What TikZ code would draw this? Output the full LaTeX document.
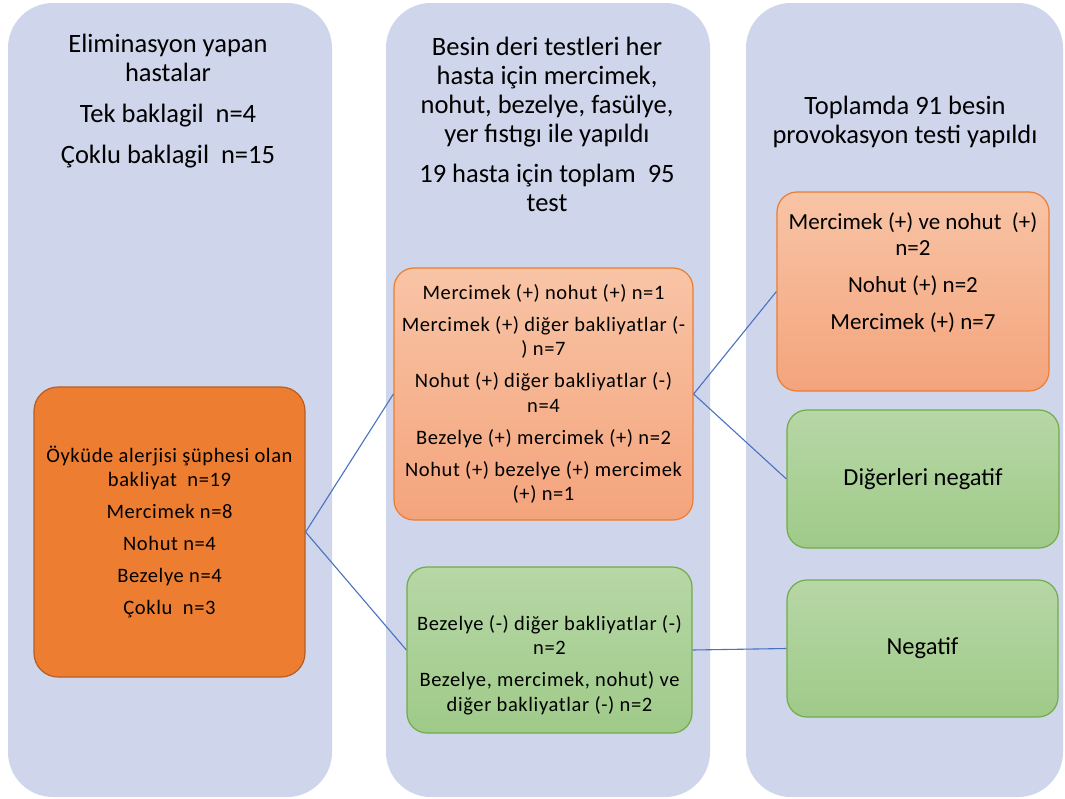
\documentclass[tikz,border=0pt]{standalone}
\usepackage{fontspec}
\setmainfont{Carlito}
\newfontfamily\boxfont[LetterSpace=3]{Carlito}
\definecolor{panel}{HTML}{CFD5EA}
\definecolor{orfill}{HTML}{ED7D31}
\definecolor{ordraw}{HTML}{B65E22}
\definecolor{saltop}{HTML}{F8C4A6}
\definecolor{salbot}{HTML}{F4A47C}
\definecolor{saldraw}{HTML}{ED7D31}
\definecolor{grtop}{HTML}{B7D7A6}
\definecolor{grbot}{HTML}{9FCA89}
\definecolor{grdraw}{HTML}{70AD47}
\definecolor{conn}{HTML}{4A72C0}
\tikzset{
  panelbox/.style={fill=panel, rounded corners=45pt, inner sep=0pt, minimum width=324pt, minimum height=794pt},
  orbox/.style={fill=orfill, draw=ordraw, line width=1.2pt, rounded corners=24pt, inner sep=0pt, align=center,
     font=\boxfont\fontsize{20.5}{24.5}\selectfont},
  salbox/.style={top color=saltop, bottom color=salbot, draw=saldraw, line width=1.2pt, rounded corners=20pt, inner sep=0pt, align=center,
     font=\boxfont\fontsize{20.5}{24.5}\selectfont},
  grbox/.style={top color=grtop, bottom color=grbot, draw=grdraw, line width=1.2pt, rounded corners=20pt, inner sep=0pt, align=center,
     font=\boxfont\fontsize{20.5}{24.5}\selectfont},
  boxtext/.style={align=center, inner sep=0pt, font=\boxfont\fontsize{20.5}{24.5}\selectfont},
  righttext/.style={align=center, inner sep=0pt, font=\fontsize{24}{26}\selectfont},
  headtext/.style={align=center, inner sep=0pt, font=\fontsize{26.5}{29}\selectfont},
  connline/.style={draw=conn, line width=1.1pt}
}
\begin{document}
\begin{tikzpicture}[x=1pt,y=-1pt]
\useasboundingbox (0,0) rectangle (1065,798);
\fill[white] (0,0) rectangle (1065,798);
% panels
\node[panelbox] (P1) at (170,400) {};
\node[panelbox] (P2) at (548,400) {};
\node[panelbox, minimum width=317pt] (P3) at (904.5,400) {};
% headers
\node[headtext] (H1) at (168,101) {Eliminasyon yapan\\hastalar\\[12pt]Tek baklagil\ \ n=4\\[12pt]Çoklu baklagil\ \ n=15};
\node[headtext] (H2) at (547,124) {Besin deri testleri her\\hasta için mercimek,\\nohut, bezelye, fasülye,\\yer fıstıgı ile yapıldı\\[11pt]19 hasta için toplam\ \ 95\\test};
\node[headtext] (H3) at (905,122) {Toplamda 91 besin\\provokasyon testi yapıldı};
% boxes
\node[orbox, minimum width=271pt, minimum height=290pt] (L) at (169.5,532)
  {Öyküde alerjisi şüphesi olan\\bakliyat\ \ n=19\\[7.5pt]Mercimek n=8\\[7.5pt]Nohut n=4\\[7.5pt]Bezelye n=4\\[7.5pt]Çoklu\ \ n=3};
\node[salbox, minimum width=299pt, minimum height=252pt] (M1) at (543.5,394)
  {Mercimek (+) nohut (+) n=1\\[7.5pt]Mercimek (+) diğer bakliyatlar (-\\) n=7\\[7.5pt]Nohut (+) diğer bakliyatlar (-)\\n=4\\[7.5pt]Bezelye (+) mercimek (+) n=2\\[7.5pt]Nohut (+) bezelye (+) mercimek\\(+) n=1};
\node[grbox, minimum width=285pt, minimum height=166pt] (M2) at (549.5,650) {};
\node[boxtext] (M2t) at ([yshift=-15pt]M2.center)
  {Bezelye (-) diğer bakliyatlar (-)\\n=2\\[7.5pt]Bezelye, mercimek, nohut) ve\\diğer bakliyatlar (-) n=2};
\node[salbox, minimum width=272pt, minimum height=199pt] (R1) at (913,291.5) {};
\node[righttext, font=\fontsize{23}{26}\selectfont] (R1t) at ([yshift=19pt]R1.center)
  {Mercimek (+) ve nohut\ \ (+)\\n=2\\[11pt]Nohut (+) n=2\\[11pt]Mercimek (+) n=7};
\node[grbox, minimum width=272pt, minimum height=138pt, font=\fontsize{24.5}{26}\selectfont] (R2) at (923,479) {Diğerleri negatif};
\node[grbox, minimum width=271pt, minimum height=137pt, font=\fontsize{24.5}{26}\selectfont] (R3) at (922.5,648.5) {Negatif};
% connectors
\draw[connline] (L.east) -- (M1.west);
\draw[connline] (L.east) -- (M2.west);
\draw[connline] (M1.east) -- (R1.west);
\draw[connline] (M1.east) -- (R2.west);
\draw[connline] (M2.east) -- (R3.west);
\end{tikzpicture}
\end{document}
